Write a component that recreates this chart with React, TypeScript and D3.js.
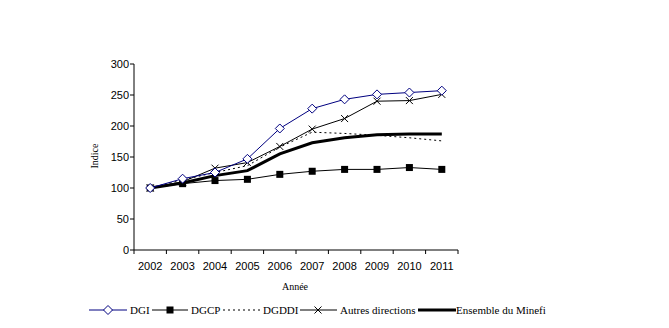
import React from "react";
import * as d3 from "d3";

const years = ["2002","2003","2004","2005","2006","2007","2008","2009","2010","2011"];
const dgi = [100,115,125,147,196,228,243,251,254,257];
const dgcp = [100,107,112,114,122,127,130,130,133,130];
const dgddi = [100,113,125,136,166,190,188,185,181,176];
const autres = [100,110,132,141,167,195,212,240,241,251];
const ensemble = [100,108,120,128,155,173,181,186,187,187];
const yTicks = [0,50,100,150,200,250,300];

const W = 669, H = 328;
const x0 = 134, x1 = 458, yTop = 64, yBot = 250;
const font = "'Liberation Serif', 'Times New Roman', serif";
const sans = "'Liberation Sans', Arial, sans-serif";

export default function App() {
  const x = d3.scaleBand().domain(years).range([x0, x1]);
  const y = d3.scaleLinear().domain([0, 300]).range([yBot, yTop]);
  const cx = (i: number) => (x(years[i]) as number) + x.bandwidth() / 2;
  const line = d3.line<number>().x((_, i) => cx(i)).y(d => y(d));

  const diamond = (px: number, py: number, k: string) => (
    <path key={k} d={`M${px},${py-4.5}L${px+4.5},${py}L${px},${py+4.5}L${px-4.5},${py}Z`} fill="white" stroke="#000080" strokeWidth={1} />
  );
  const square = (px: number, py: number, k: string) => (
    <rect key={k} x={px-3.5} y={py-3.5} width={7} height={7} fill="black" />
  );
  const cross = (px: number, py: number, k: string) => (
    <path key={k} d={`M${px-3.5},${py-3.5}L${px+3.5},${py+3.5}M${px+3.5},${py-3.5}L${px-3.5},${py+3.5}`} stroke="black" strokeWidth={1} />
  );

  const ly = 310;
  return (
    <svg width={W} height={H} style={{ position: "absolute", left: 0, top: 0, background: "white" }} fontFamily={font} fontSize={11}>
      <rect x={0} y={0} width={W} height={H} fill="white" />
      {/* axes */}
      <line x1={x0} y1={yTop} x2={x0} y2={yBot} stroke="black" />
      <line x1={x0} y1={yBot} x2={x1} y2={yBot} stroke="black" />
      {yTicks.map(t => (
        <g key={t}>
          <line x1={x0 - 4} x2={x0} y1={y(t)} y2={y(t)} stroke="black" />
          <text x={x0 - 5} y={y(t) + 4} textAnchor="end" fontFamily={sans}>{t}</text>
        </g>
      ))}
      {years.map((yr) => (
        <line key={"t" + yr} x1={x(yr) as number} x2={x(yr) as number} y1={yBot} y2={yBot + 4} stroke="black" />
      ))}
      <line x1={x1} x2={x1} y1={yBot} y2={yBot + 4} stroke="black" />
      {years.map((yr, i) => (
        <text key={yr} x={cx(i)} y={yBot + 20} textAnchor="middle" fontFamily={sans}>{yr}</text>
      ))}
      <text x={295} y={290} textAnchor="middle" fontSize={10}>Année</text>
      <text transform={`translate(98,156) rotate(-90)`} textAnchor="middle" fontSize={10}>Indice</text>

      {/* series */}
      <path d={line(dgcp) || ""} fill="none" stroke="black" strokeWidth={1} />
      <path d={line(dgddi) || ""} fill="none" stroke="black" strokeWidth={1} strokeDasharray="2,3" />
      <path d={line(autres) || ""} fill="none" stroke="black" strokeWidth={1} />
      <path d={line(ensemble) || ""} fill="none" stroke="black" strokeWidth={3} />
      <path d={line(dgi) || ""} fill="none" stroke="#000080" strokeWidth={1} />
      {dgcp.map((v, i) => square(cx(i), y(v), "s" + i))}
      {autres.map((v, i) => cross(cx(i), y(v), "c" + i))}
      {dgi.map((v, i) => diamond(cx(i), y(v), "d" + i))}

      {/* legend */}
      <line x1={89} x2={127} y1={ly} y2={ly} stroke="#000080" />
      {diamond(108, ly, "ld")}
      <text x={130} y={ly + 4}>DGI</text>
      <line x1={152} x2={188} y1={ly} y2={ly} stroke="black" />
      {square(170, ly, "ls")}
      <text x={191} y={ly + 4}>DGCP</text>
      <line x1={223} x2={260} y1={ly} y2={ly} stroke="black" strokeDasharray="2,3" />
      <text x={263} y={ly + 4}>DGDDI</text>
      <line x1={300} x2={337} y1={ly} y2={ly} stroke="black" />
      {cross(318, ly, "lc")}
      <text x={340} y={ly + 4}>Autres directions</text>
      <line x1={418} x2={456} y1={ly} y2={ly} stroke="black" strokeWidth={3} />
      <text x={456} y={ly + 4}>Ensemble du Minefi</text>
    </svg>
  );
}
